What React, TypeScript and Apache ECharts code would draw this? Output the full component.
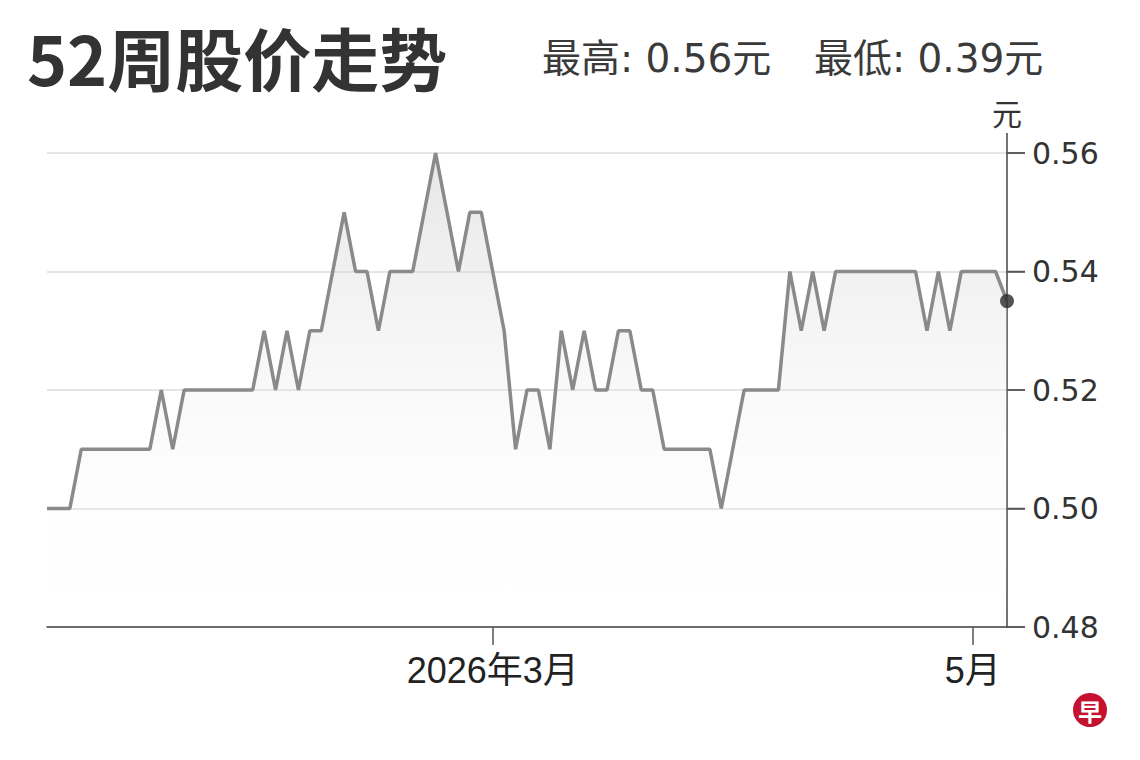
import React, { useEffect, useRef } from "react";
import * as echarts from "echarts";

const titleText = "52周股价走势";
const highText = "最高: 0.56元";
const lowText = "最低: 0.39元";
const yUnit = "元";

// trading-day index (Jan 2026 – early May 2026)
const prices: number[] = [
  0.50, 0.50, 0.50, 0.51, 0.51, 0.51, 0.51, 0.51, 0.51, 0.51,
  0.52, 0.51, 0.52, 0.52, 0.52, 0.52, 0.52, 0.52, 0.52, 0.53,
  0.52, 0.53, 0.52, 0.53, 0.53, 0.54, 0.55, 0.54, 0.54, 0.53,
  0.54, 0.54, 0.54, 0.55, 0.56, 0.55, 0.54, 0.55, 0.55, 0.54,
  0.53, 0.51, 0.52, 0.52, 0.51, 0.53, 0.52, 0.53, 0.52, 0.52,
  0.53, 0.53, 0.52, 0.52, 0.51, 0.51, 0.51, 0.51, 0.51, 0.50,
  0.51, 0.52, 0.52, 0.52, 0.52, 0.54, 0.53, 0.54, 0.53, 0.54,
  0.54, 0.54, 0.54, 0.54, 0.54, 0.54, 0.54, 0.53, 0.54, 0.53,
  0.54, 0.54, 0.54, 0.54, 0.535,
];
const categories: string[] = prices.map((_, i) => String(i));
const monthTickLabels: Record<number, string> = { 39: "2026年3月", 81: "5月" };
const yTickValues: number[] = [0.48, 0.50, 0.52, 0.54, 0.56];
const yTicks = { min: 0.48, max: 0.56, interval: 0.02 };

export default function App() {
  const ref = useRef<HTMLDivElement>(null);
  useEffect(() => {
    if (!ref.current) return;
    const chart = echarts.init(ref.current, null, { renderer: "svg" });
    const last = prices.length - 1;
    const isMonth = (i: number) => monthTickLabels[i] !== undefined;
    const baseGraphic: any[] = [
      {
        type: "text",
        left: 27,
        top: 22,
        style: {
          text: titleText,
          fontSize: 68,
          fontWeight: "bold",
          fill: "#333",
          fontFamily: "'Noto Sans CJK SC', sans-serif",
        },
      },
      {
        type: "text",
        left: 542,
        top: 39,
        style: {
          text: highText,
          fontSize: 39,
          fill: "#3a3a3a",
          fontFamily: "'DejaVu Sans', 'Noto Sans CJK SC', sans-serif",
        },
      },
      {
        type: "text",
        left: 814,
        top: 39,
        style: {
          text: lowText,
          fontSize: 39,
          fill: "#3a3a3a",
          fontFamily: "'DejaVu Sans', 'Noto Sans CJK SC', sans-serif",
        },
      },
      {
        type: "circle",
        shape: { cx: 1090, cy: 710, r: 17 },
        style: { fill: "#c4122f" },
      },
      {
        type: "text",
        x: 1090,
        y: 710,
        style: {
          text: "早",
          fontSize: 24,
          fontWeight: "bold",
          fill: "#fff",
          align: "center",
          verticalAlign: "middle",
          fontFamily: "'Noto Sans CJK SC', sans-serif",
        },
      },
    ];
    chart.setOption({
      animation: false,
      backgroundColor: "#ffffff",
      grid: { left: 47, right: 133, top: 153, bottom: 133, containLabel: false },
      xAxis: {
        type: "category",
        data: categories,
        boundaryGap: false,
        axisLine: { show: true, lineStyle: { color: "#444", width: 1.5 } },
        axisTick: { show: true, interval: (i: number) => isMonth(i), length: 18, lineStyle: { color: "#555", width: 1.5 } },
        axisLabel: {
          interval: (i: number) => isMonth(i),
          formatter: (_v: string, i: number) => monthTickLabels[i] ?? "",
          fontSize: 36,
          color: "#222",
          margin: 25,
          fontFamily: "'Liberation Sans', 'Noto Sans CJK SC', sans-serif",
        },
        splitLine: { show: false },
      },
      yAxis: {
        type: "value",
        position: "right",
        min: yTicks.min,
        max: yTicks.max,
        interval: yTicks.interval,
        name: yUnit,
        nameLocation: "end",
        nameGap: 26,
        nameTextStyle: { fontSize: 30, color: "#333", fontFamily: "'Noto Sans CJK SC', sans-serif", align: "center" },
        axisLine: { show: true, lineStyle: { color: "#444", width: 1.5 } },
        axisTick: { show: true, inside: false, length: 18, lineStyle: { color: "#555", width: 1.5 } },
        axisLabel: {
          fontSize: 30,
          color: "#333",
          margin: 25,
          fontFamily: "'DejaVu Sans', sans-serif",
          formatter: (v: number) => v.toFixed(2),
        },
        splitLine: { show: true, lineStyle: { color: "#dcdcdc", width: 1.5 } },
      },
      series: [
        {
          type: "line",
          data: prices,
          symbol: "none",
          lineStyle: { color: "#8a8a8a", width: 3.5 },
          areaStyle: {
            color: new echarts.graphic.LinearGradient(0, 0, 0, 1, [
              { offset: 0, color: "rgba(195,195,195,0.6)" },
              { offset: 0.55, color: "rgba(235,235,235,0.35)" },
              { offset: 1, color: "rgba(255,255,255,0)" },
            ]),
          },
          z: 2,
        },
        {
          type: "scatter",
          data: [[last, prices[last]]],
          symbol: "circle",
          symbolSize: 14,
          itemStyle: { color: "#2b2b2b" },
          z: 5,
        },
      ],
      graphic: baseGraphic,
    });

    // y-axis tick marks and the axis-line extension above the top tick, placed via the axis scale
    const axisX = chart.convertToPixel({ xAxisIndex: 0 }, last) as number;
    const topY = chart.convertToPixel({ yAxisIndex: 0 }, yTicks.max) as number;
    const tickMarks = yTickValues.map((v) => {
      const y = chart.convertToPixel({ yAxisIndex: 0 }, v) as number;
      return {
        type: "line",
        shape: { x1: axisX, y1: y, x2: axisX + 18, y2: y },
        style: { stroke: "#555", lineWidth: 1.5 },
        z: 10,
      };
    });
    chart.setOption({
      graphic: [
        ...baseGraphic,
        ...tickMarks,
        {
          type: "line",
          shape: { x1: axisX, y1: topY - 20, x2: axisX, y2: topY },
          style: { stroke: "#444", lineWidth: 1.5 },
          z: 10,
        },
      ],
    });
    return () => chart.dispose();
  }, []);
  return <div ref={ref} style={{ position: "absolute", left: 0, top: 0, width: 1140, height: 760 }} />;
}
